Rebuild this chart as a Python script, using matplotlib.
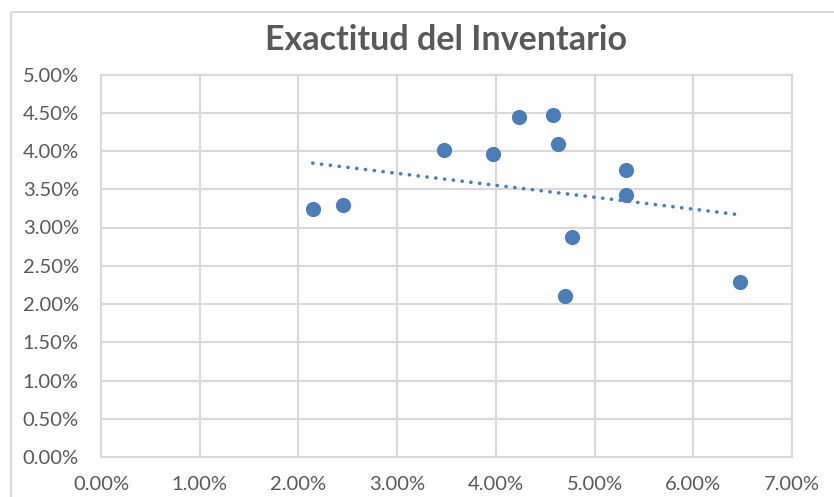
import matplotlib
matplotlib.use("Agg")
import matplotlib.pyplot as plt
from matplotlib.patches import Rectangle
from matplotlib.ticker import PercentFormatter, MultipleLocator
import numpy as np

# Inventory accuracy observations (percent)
x_vals = [2.145, 2.455, 3.478, 3.975, 4.238, 4.580, 4.627, 5.322, 5.322, 4.769, 4.701, 6.471]
y_vals = [3.246, 3.294, 4.013, 3.965, 4.444, 4.471, 4.092, 3.756, 3.425, 2.876, 2.109, 2.292]
title = "Exactitud del Inventario"

blue = "#4A7EBB"
grid_c = "#D9D9D9"
text_c = "#595959"

plt.rcParams["font.family"] = ["Lato", "DejaVu Sans"]

fig = plt.figure(figsize=(8.34, 4.97), dpi=100)
W, H = 834, 497

# chart-area frame
fig.patches.append(Rectangle((11 / W, 1 - 12 / H), 900 / W, -600 / H,
                             transform=fig.transFigure, fill=False,
                             edgecolor=grid_c, linewidth=1.5))

ax = fig.add_axes([101 / W, 1 - 457 / H, (792 - 101) / W, (457 - 74.5) / H])
ax.set_xlim(0, 7)
ax.set_ylim(0, 5)
ax.xaxis.set_major_locator(MultipleLocator(1))
ax.yaxis.set_major_locator(MultipleLocator(0.5))
ax.xaxis.set_major_formatter(PercentFormatter(decimals=2))
ax.yaxis.set_major_formatter(PercentFormatter(decimals=2))
ax.grid(True, color=grid_c, linewidth=1.5)
ax.set_axisbelow(True)
for s in ax.spines.values():
    s.set_color(grid_c)
    s.set_linewidth(1.5)
ax.tick_params(length=0, colors=text_c, labelsize=14.5)
ax.tick_params(axis="y", pad=16)
ax.tick_params(axis="x", pad=14)

ax.scatter(x_vals, y_vals, s=120, color=blue, zorder=3, linewidths=0)

# linear trendline
coef = np.polyfit(x_vals, y_vals, 1)
tx = np.array([min(x_vals), max(x_vals)])
ax.plot(tx, np.polyval(coef, tx), linestyle=(0, (0.05, 2.4)), color=blue,
        linewidth=2.6, dash_capstyle="round", zorder=2)

fig.text(446 / W, 1 - 40 / H, title, ha="center", va="center",
         fontsize=24.5, fontweight="bold", color=text_c)

fig.savefig("out.png", dpi=100)
